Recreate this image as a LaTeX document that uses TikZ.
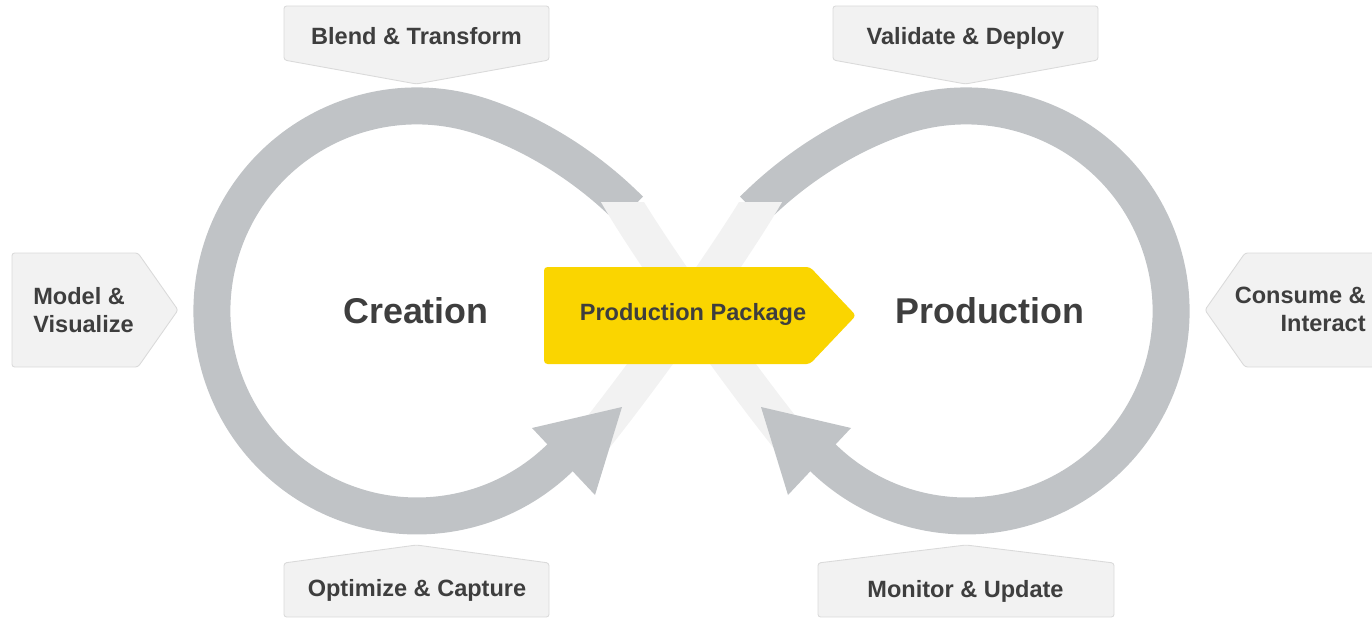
\documentclass[tikz,border=0pt]{standalone}
\usepackage{fontspec}
\setmainfont{Liberation Sans}
\definecolor{ringgray}{RGB}{192,195,198}
\definecolor{lightband}{RGB}{242,242,242}
\definecolor{boxfill}{RGB}{242,242,242}
\definecolor{boxedge}{RGB}{218,218,218}
\definecolor{pkgyellow}{RGB}{250,213,0}
\definecolor{ink}{RGB}{62,62,62}
\begin{document}
\begin{tikzpicture}[x=0.02cm,y=-0.02cm,
  ring/.style={draw=ringgray, line width=0.74cm},
  band/.style={draw=lightband, line width=0.74cm},
  tag/.style={fill=boxfill, draw=boxedge, line width=0.5pt, rounded corners=1.5pt},
  tagtext/.style={font=\bfseries\fontsize{13.4}{16}\selectfont, text=ink, inner sep=0pt},
  hubtext/.style={font=\bfseries\fontsize{20.4}{24}\selectfont, text=ink, inner sep=0pt},
]
\useasboundingbox (0,0) rectangle (1372,618);

% left loop of the figure eight
\draw[ring] (630.2,209.9) -- (623,203) .. controls (583.4,165) and (532.6,133) .. (480.3,116)
  arc[start angle=-72, end angle=-315, radius=205];
% right loop: mirror image about x = 691.5
\begin{scope}[shift={(1383,0)}, xscale=-1]
  \draw[ring] (630.2,209.9) -- (623,203) .. controls (583.4,165) and (532.6,133) .. (480.3,116)
    arc[start angle=-72, end angle=-315, radius=205];
\end{scope}

% pale crossing bands through the middle
\begin{scope}
  \clip (0,203) rectangle (1372,618);
  \draw[band] (575,461) .. controls (639,384) and (729.4,254.6) .. (760,203) -- (767.7,190);
  \draw[band] (808,461) .. controls (744,384) and (653.6,254.6) .. (623,203) -- (615.3,190);
\end{scope}

% arrowheads
\fill[ringgray] (532,428) -- (622,407) -- (595,495) -- cycle;
\fill[ringgray] (851,428) -- (761,407) -- (788,495) -- cycle;

% central package arrow
\fill[pkgyellow, rounded corners=2pt] (544,267) -- (810,267) -- (856,315.5) -- (810,364) -- (544,364) -- cycle;
\node[tagtext, anchor=base] (pkg) at (693,320) {Production Package};

% hub titles
\node[hubtext, anchor=base] (creation) at (416,323) {Creation};
\node[hubtext, anchor=base] (production) at (990,323) {Production};

% stage tags
\draw[tag] (284,6) -- (549,6) -- (549,60) -- (416.5,84) -- (284,60) -- cycle;
\node[tagtext, anchor=base] (blend) at (416.5,45) {Blend \& Transform};

\draw[tag] (833,6) -- (1098,6) -- (1098,60) -- (965.5,84) -- (833,60) -- cycle;
\node[tagtext, anchor=base] (validate) at (965.5,45) {Validate \& Deploy};

\draw[tag] (284,563) -- (416.5,545) -- (549,563) -- (549,617) -- (284,617) -- cycle;
\node[tagtext, anchor=base] (optimize) at (417,596.5) {Optimize \& Capture};

\draw[tag] (818,563) -- (966,545) -- (1114,563) -- (1114,617) -- (818,617) -- cycle;
\node[tagtext, anchor=base] (monitor) at (965.5,597) {Monitor \& Update};

\draw[tag] (12,253) -- (138,253) -- (178,310) -- (138,367) -- (12,367) -- cycle;
\node[tagtext, anchor=west, align=left] (model) at (33,310.5) {Model \&\\Visualize};

\draw[tag] (1205,310) -- (1245,253) -- (1376,253) -- (1376,367) -- (1245,367) -- cycle;
\node[tagtext, anchor=east, align=right] (consume) at (1366,309.5) {Consume \&\\Interact};
\end{tikzpicture}
\end{document}
